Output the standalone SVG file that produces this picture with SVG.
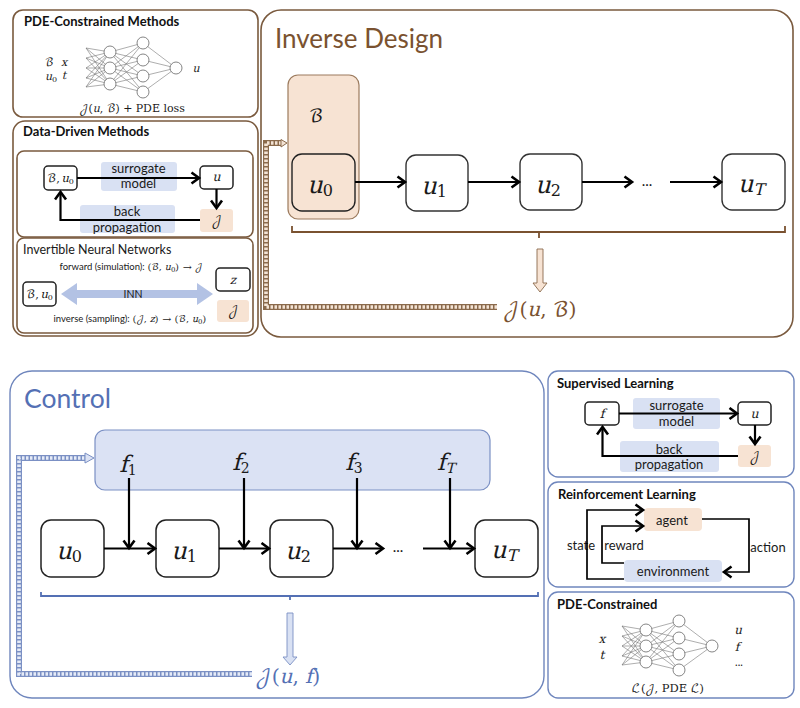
<svg xmlns="http://www.w3.org/2000/svg" xmlns:xlink="http://www.w3.org/1999/xlink" width="800" height="708" viewBox="0 0 800 708">
<style>
text{font-family:"Lato","Open Sans",sans-serif;fill:#1a1a1a;text-anchor:middle}
.h{font-weight:700;font-size:13px;text-anchor:start;fill:#111}
.l{font-size:13px}
.m{font-family:"DejaVu Math TeX Gyre","Liberation Serif","DejaVu Serif",serif;font-style:italic}
.mu{font-family:"DejaVu Math TeX Gyre","DejaVu Serif",serif;font-style:normal}
.brown{fill:none;stroke:#7a5a3e;stroke-width:1.6}
.blue{fill:none;stroke:#6f86bd;stroke-width:1.4}
.box{fill:#fff;stroke:#222;stroke-width:1.5}
.box2{fill:#fff;stroke:#333;stroke-width:1.4}
.peach{fill:#f7e3d3}
.lb{fill:#d9e1f3}
.a{fill:none;stroke:#000;stroke-width:2.2;marker-end:url(#ah)}
.t{fill:none;stroke:#000;stroke-width:1.7;marker-end:url(#ah)}
.n{fill:#fff;stroke:#666;stroke-width:.8}
.nl{stroke:#777;stroke-width:.6;fill:none}
</style>
<defs>
<marker id="ah" markerUnits="userSpaceOnUse" markerWidth="14" markerHeight="14" refX="11" refY="7" orient="auto"><path d="M3.500 1.500L11 7L3.500 12.500" fill="none" stroke="#000" stroke-width="2.6"/></marker>
<g id="net">
<path class="nl" d="M86 48L110 52M86 48L110 68M86 48L110 84M86 58L110 52M86 58L110 68M86 58L110 84M86 68L110 52M86 68L110 68M86 68L110 84M86 78L110 52M86 78L110 68M86 78L110 84M86 87L110 52M86 87L110 68M86 87L110 84M110 52L143 43M110 52L143 60M110 52L143 76M110 52L143 92M110 68L143 43M110 68L143 60M110 68L143 76M110 68L143 92M110 84L143 43M110 84L143 60M110 84L143 76M110 84L143 92M143 43L176 68M143 60L176 68M143 76L176 68M143 92L176 68"/>
<circle class="n" cx="110" cy="52" r="6"/><circle class="n" cx="110" cy="68" r="6"/><circle class="n" cx="110" cy="84" r="6"/>
<circle class="n" cx="143" cy="43" r="6"/><circle class="n" cx="143" cy="60" r="6"/><circle class="n" cx="143" cy="76" r="6"/><circle class="n" cx="143" cy="92" r="6"/>
<circle class="n" cx="176" cy="68" r="6"/>
</g>
</defs>
<rect width="800" height="708" fill="#fff"/>

<g id="pde-methods">
<rect class="brown" x="13" y="10" width="245" height="107" rx="10"/>
<text class="h" x="24" y="26">PDE-Constrained Methods</text>
<use xlink:href="#net" href="#net"/>
<text class="mu" x="49" y="66" font-size="11">ℬ</text><text class="m" x="64" y="66" font-size="11">x</text>
<text class="m" x="51" y="80" font-size="11">u<tspan class="mu" font-size="8" dy="2">0</tspan></text><text class="m" x="64" y="79" font-size="11">t</text>
<text class="m" x="196" y="72" font-size="11">u</text>
<text class="mu" x="132" y="112" font-size="11">𝒥(<tspan class="m">u</tspan>, ℬ) + PDE loss</text>
</g>

<g id="data-driven">
<rect class="brown" x="13" y="121" width="245" height="215" rx="12"/>
<text class="h" x="23" y="136">Data-Driven Methods</text>
<rect class="brown" x="17" y="151" width="236" height="86" rx="7"/>
<rect class="lb" x="101" y="162" width="76" height="29" rx="3"/>
<rect class="lb" x="80" y="205" width="95" height="28" rx="3"/>
<text class="l" x="138.500" y="173">surrogate</text>
<text class="l" x="138.500" y="188">model</text>
<text class="l" x="127" y="216">back</text>
<text class="l" x="127" y="232">propagation</text>
<rect class="box" x="44" y="166" width="33" height="24" rx="4"/>
<text class="mu" x="60.500" y="182" font-size="11.500" word-spacing="-2">ℬ, <tspan class="m">u</tspan><tspan font-size="8" dy="2">0</tspan></text>
<rect class="box" x="200" y="166" width="33" height="23" rx="4"/>
<text class="m" x="216.500" y="181" font-size="12.500">u</text>
<rect class="peach" x="200" y="209" width="33" height="23" rx="3"/>
<text class="mu" x="216.500" y="225" font-size="12.500">𝒥</text>
<path class="a" d="M77 178H199"/>
<path class="a" d="M216.500 189V208"/>
<path class="a" d="M200 220H60.500V192"/>
<rect class="brown" x="17" y="238" width="236" height="95" rx="7"/>
<text x="23" y="254" style="font-size:12.500px;text-anchor:start">Invertible Neural Networks</text>
<text x="131" y="270" style="font-size:9.500px">forward (simulation): <tspan class="mu">(ℬ, </tspan><tspan class="m">u</tspan><tspan class="mu" font-size="7" dy="1.500">0</tspan><tspan class="mu" dy="-1.500">) → 𝒥</tspan></text>
<rect class="box" x="216" y="268" width="34" height="23" rx="4"/>
<text class="m" x="233" y="284" font-size="12">z</text>
<rect class="box" x="23" y="282" width="33" height="24" rx="4"/>
<text class="mu" x="39.500" y="298" font-size="11.500" word-spacing="-2">ℬ, <tspan class="m">u</tspan><tspan font-size="8" dy="2">0</tspan></text>
<path d="M61 294L77 283V290H197V283L213 294L197 305V298H77V305Z" fill="#b3c2e4"/>
<text x="133" y="298" style="font-size:10.500px">INN</text>
<rect class="peach" x="217" y="300" width="32" height="22" rx="3"/>
<text class="mu" x="233" y="315" font-size="12.500">𝒥</text>
<text x="130" y="322" style="font-size:9.500px">inverse (sampling): <tspan class="mu">(𝒥, </tspan><tspan class="m">z</tspan><tspan class="mu">) → (ℬ, </tspan><tspan class="m">u</tspan><tspan class="mu" font-size="7" dy="1.500">0</tspan><tspan class="mu" dy="-1.500">)</tspan></text>
</g>

<g id="inverse-design">
<rect class="brown" x="261" y="10" width="532" height="327" rx="20"/>
<text x="275" y="48" style="font-size:26px;text-anchor:start;fill:#7a5230">Inverse Design</text>
<rect x="288" y="75" width="71" height="144" rx="10" fill="#f7e3d3" stroke="#9c7b5e" stroke-width="1.200"/>
<text class="mu" x="316" y="122" font-size="18" fill="#111">ℬ</text>
<rect x="292" y="154" width="63" height="57" rx="10" fill="#f7e3d3" stroke="#222" stroke-width="1.400"/>
<text class="m" x="320" y="193" font-size="24">u<tspan font-size="16" dy="3" class="mu">0</tspan></text>
<rect class="box2" x="406" y="155" width="62" height="56" rx="10"/>
<text class="m" x="434" y="194" font-size="24">u<tspan font-size="16" dy="3" class="mu">1</tspan></text>
<rect class="box2" x="520" y="154" width="62" height="56" rx="10"/>
<text class="m" x="548" y="193" font-size="24">u<tspan font-size="16" dy="3" class="mu">2</tspan></text>
<rect class="box2" x="722" y="154" width="63" height="56" rx="10"/>
<text class="m" x="751" y="192" font-size="24">u<tspan font-size="16" dy="3">T</tspan></text>
<text x="647" y="186" style="font-size:15px">...</text>
<text class="mu" x="540" y="316" font-size="20" style="fill:#7a5230">𝒥(<tspan class="m" style="fill:#7a5230">u</tspan>, ℬ)</text>
</g>

<g id="control">
<rect x="10" y="371" width="534" height="327" rx="22" fill="none" stroke="#6f86bd" stroke-width="1.400"/>
<text x="24" y="408" style="font-size:26.500px;text-anchor:start;fill:#5470b4">Control</text>
<rect x="95" y="430" width="395" height="60" rx="10" fill="#dbe2f4" stroke="#7b90c4" stroke-width="1.200"/>
<text class="m" x="128" y="472" font-size="23">f<tspan font-size="14" dy="3" class="mu">1</tspan></text>
<text class="m" x="241" y="470" font-size="23">f<tspan font-size="14" dy="3" class="mu">2</tspan></text>
<text class="m" x="354" y="470" font-size="23">f<tspan font-size="14" dy="3" class="mu">3</tspan></text>
<text class="m" x="446" y="470" font-size="23">f<tspan font-size="14" dy="3">T</tspan></text>
<rect class="box" x="41" y="520" width="63" height="57" rx="10"/>
<text class="m" x="69" y="559" font-size="24">u<tspan font-size="16" dy="3" class="mu">0</tspan></text>
<rect class="box" x="156" y="520" width="63" height="57" rx="10"/>
<text class="m" x="184" y="559" font-size="24">u<tspan font-size="16" dy="3" class="mu">1</tspan></text>
<rect class="box" x="270" y="520" width="63" height="57" rx="10"/>
<text class="m" x="298" y="559" font-size="24">u<tspan font-size="16" dy="3" class="mu">2</tspan></text>
<rect class="box" x="475" y="520" width="63" height="57" rx="10"/>
<text class="m" x="504" y="558" font-size="24">u<tspan font-size="16" dy="3">T</tspan></text>
<text x="398" y="552" style="font-size:15px">...</text>
<text class="mu" x="288" y="683" font-size="20" style="fill:#5470b4">𝒥(<tspan class="m" style="fill:#5470b4">u</tspan>, <tspan class="m" style="fill:#5470b4">f</tspan>)</text>
</g>

<g id="supervised">
<rect class="blue" x="548" y="371" width="246" height="106" rx="10"/>
<text class="h" x="557" y="388">Supervised Learning</text>
<rect class="lb" x="633" y="398" width="87" height="31" rx="3"/>
<rect class="lb" x="620" y="441" width="99" height="31" rx="3"/>
<text class="l" x="676.500" y="410">surrogate</text>
<text class="l" x="676.500" y="426">model</text>
<text class="l" x="669" y="454">back</text>
<text class="l" x="669" y="469">propagation</text>
<rect class="box" x="585" y="402" width="34" height="23" rx="4"/>
<text class="m" x="602" y="418" font-size="12.500">f</text>
<rect class="box" x="738" y="402" width="33" height="23" rx="4"/>
<text class="m" x="754.500" y="418" font-size="12.500">u</text>
<rect class="peach" x="738" y="445" width="33" height="22" rx="3"/>
<text class="mu" x="754.500" y="461" font-size="12.500">𝒥</text>
<path class="a" d="M619 413.500H737"/>
<path class="a" d="M755 425V444"/>
<path class="a" d="M738 456H602.500V427"/>
</g>

<g id="reinforcement">
<rect class="blue" x="548" y="482" width="246" height="105" rx="10"/>
<text class="h" x="558" y="499">Reinforcement Learning</text>
<rect class="peach" x="644" y="508" width="58" height="23" rx="4"/>
<text class="l" x="672" y="525">agent</text>
<rect class="lb" x="624" y="560" width="98" height="22" rx="4"/>
<text class="l" x="673" y="576">environment</text>
<text class="l" x="581" y="550">state</text>
<text class="l" x="624" y="550">reward</text>
<text class="l" x="768" y="552">action</text>
</g>

<g id="pde-constrained">
<rect class="blue" x="548" y="592" width="246" height="106" rx="10"/>
<text class="h" x="557" y="609">PDE-Constrained</text>
<use xlink:href="#net" href="#net" transform="translate(536 578)"/>
<text class="m" x="602" y="643" font-size="12">x</text>
<text class="m" x="602" y="659" font-size="12">t</text>
<text class="m" x="738" y="634" font-size="12">u</text>
<text class="m" x="737" y="651" font-size="12">f</text>
<text x="739" y="666" style="font-size:11px">...</text>
<text class="mu" x="668" y="692" font-size="11.500">ℒ(𝒥, PDE ℒ)</text>
</g>

<g id="connectors">
<path class="a" d="M355 182H405"/><path class="a" d="M468 182H519"/><path class="a" d="M582 182H632"/><path class="a" d="M670 182H721"/>
<path d="M292 226V232H785V226M539 232V238" fill="none" stroke="#7a5230" stroke-width="1.800"/>
<path d="M537 249H543V283H547L540 292L533 283H537Z" fill="#f7e3d3" stroke="#8a6a4c" stroke-width=".9"/>
<path d="M497 307H266V143H282" fill="none" stroke="#8a6a4c" stroke-width="6"/>
<path d="M497 307H266V143H282" fill="none" stroke="#f3e3d5" stroke-width="3.600" stroke-dasharray="2.500 1.500"/>
<path d="M281 139.500L287 143L281 147Z" fill="#f3e3d5" stroke="#8a6a4c"/>
<path class="a" d="M104 548.500H155"/><path class="a" d="M219 548.500H269"/><path class="a" d="M333 548.500H383"/><path class="a" d="M423 548.500H474"/>
<path class="a" d="M129 478V548"/><path class="a" d="M244 478V548"/><path class="a" d="M357 478V548"/><path class="a" d="M450 478V548"/>
<path d="M41 592V596H538V592M290 596V600" fill="none" stroke="#5470b4" stroke-width="1.800"/>
<path d="M287 613H293V657H297L290 665L283 657H287Z" fill="#d9e1f3" stroke="#7b90c4" stroke-width=".9"/>
<path d="M252 674H19V458H88" fill="none" stroke="#7b90c4" stroke-width="6"/>
<path d="M252 674H19V458H88" fill="none" stroke="#e6ebf7" stroke-width="3.600" stroke-dasharray="2.500 1.500"/>
<path d="M85 453L94 458L85 463Z" fill="#dbe2f4" stroke="#7b90c4"/>
<path class="t" d="M624 579H587V510H643"/>
<path class="t" d="M624 563H602V526H643"/>
<path class="t" d="M702 519H749V572H724"/>
</g>
</svg>
